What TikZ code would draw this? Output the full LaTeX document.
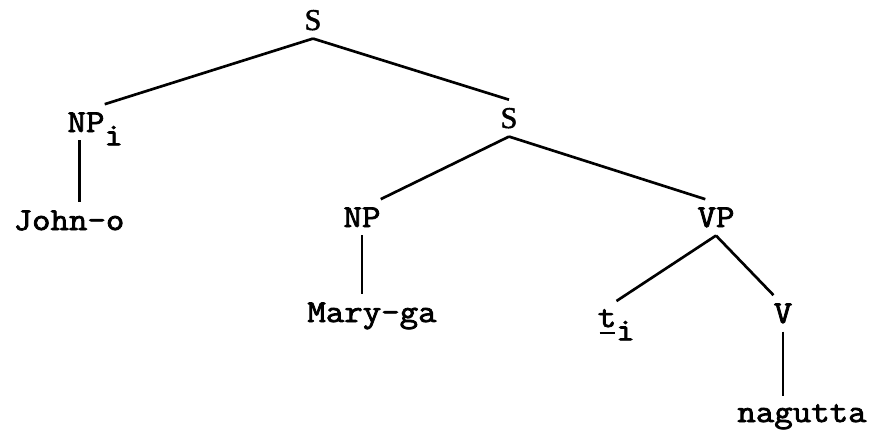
\documentclass[tikz,border=0pt]{standalone}
\usepackage{fontspec}
\setmonofont{Latin Modern Mono}[FakeStretch=1.12,FakeBold=2.5]
\newfontfamily\catserif{Liberation Serif}[FakeBold=1.5]
\usepackage{tikz}

% lowered index and underlined trace, as typed
\newcommand{\lowi}{\rlap{\smash{\raisebox{-10pt}{i}}}}
\newcommand{\trace}[1]{\rlap{\hspace{0.06em}\rule[-0.21em]{0.48em}{0.065em}}#1}

\tikzset{
  cat/.style={inner xsep=0pt, inner ysep=6pt, anchor=base, font=\fontsize{24}{28}\selectfont\ttfamily},
  sent/.style={cat, font=\fontsize{22.7}{27}\selectfont\catserif},
  branch/.style={line width=2pt}
}

\begin{document}
\begin{tikzpicture}[x=0.75pt,y=0.75pt,yscale=-1,xscale=1]
%set diagram left start at 0, and has height of 429
\useasboundingbox (0,0) rectangle (877,429);

% Text Node
\node[sent] (s0) at (313,30) {S};
% Text Node
\node[cat] (npi) at (86,132) {NP\lowi};
% Text Node
\node[sent] (s1) at (509,128) {S};
% Text Node
\node[cat] (john) at (69,230) {John-o};
% Text Node
\node[cat] (np) at (362,227) {NP};
% Text Node
\node[cat] (vp) at (716,227) {VP};
% Text Node
\node[cat] (mary) at (372,322) {Mary-ga};
% Text Node
\node[cat] (ti) at (607,327) {\trace{t}\lowi};
% Text Node
\node[cat] (v) at (783,323) {V};
% Text Node
\node[cat] (nagutta) at (802,422) {nagutta};

%Straight Lines
\draw[branch] (s0.south) -- (npi.north east);
\draw[branch] (s0.south) -- (s1.north);

%Straight Lines
\coordinate (npistem) at ([xshift=-5pt]npi.south);
\draw[branch] (npistem) -- (npistem |- john.north);

%Straight Lines
\draw[branch] (s1.south) -- (np.north east);
\draw[branch] (s1.south) -- ([xshift=6pt]vp.north west);
\draw[branch] (np.south) -- (np.south |- mary.north);

%Straight Lines
\draw[branch] (vp.south) -- (ti.north east);
\draw[branch] (vp.south) -- (v.north west);
\draw[branch] (v.south) -- (v.south |- nagutta.north);

\end{tikzpicture}
\end{document}
